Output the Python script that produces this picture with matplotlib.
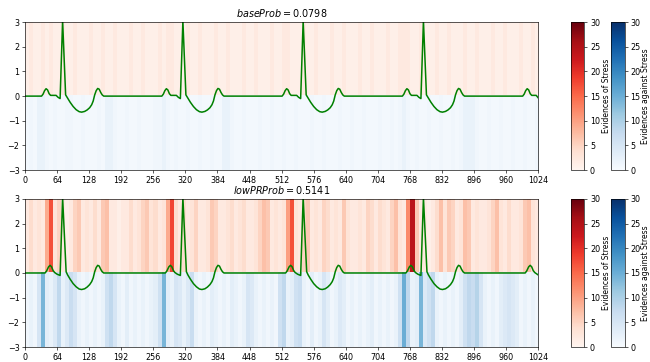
import numpy as np
import matplotlib
matplotlib.use("Agg")
import matplotlib.pyplot as plt

# ECG trace shown in the upper panel (sample index, amplitude)
top_t = [0, 33, 36, 39, 42, 45, 48, 51, 62, 66, 70, 75, 81, 85, 90, 96, 102, 108, 113, 119, 124, 129, 133, 136, 139, 142, 145, 148, 151, 154, 157,
         273, 276, 279, 282, 285, 288, 291, 302, 306, 310, 315, 321, 325, 330, 336, 342, 348, 353, 359, 364, 369, 373, 376, 379, 382, 385, 388, 391, 394, 397,
         513, 516, 519, 522, 525, 528, 531, 542, 546, 550, 555, 561, 565, 570, 576, 582, 588, 593, 599, 604, 609, 613, 616, 619, 622, 625, 628, 631, 634, 637,
         753, 756, 759, 762, 765, 768, 771, 782, 786, 790, 795, 801, 805, 810, 816, 822, 828, 833, 839, 844, 849, 853, 856, 859, 862, 865, 868, 871, 874, 877,
         993, 996, 999, 1002, 1005, 1008, 1011, 1020, 1024]
top_v = [0, 0, 0.08, 0.22, 0.3, 0.25, 0.1, 0.03, 0.03, -0.05, -0.1, 3.05, 0.05, -0.08, -0.25, -0.42, -0.55, -0.63, -0.65, -0.62, -0.56, -0.47, -0.35, -0.2, 0.05, 0.22, 0.31, 0.28, 0.15, 0.05, 0,
         0, 0.08, 0.22, 0.3, 0.25, 0.1, 0.03, 0.03, -0.05, -0.1, 3.05, 0.05, -0.08, -0.25, -0.42, -0.55, -0.63, -0.65, -0.62, -0.56, -0.47, -0.35, -0.2, 0.05, 0.22, 0.31, 0.28, 0.15, 0.05, 0,
         0, 0.08, 0.22, 0.3, 0.25, 0.1, 0.03, 0.03, -0.05, -0.1, 3.05, 0.05, -0.08, -0.25, -0.42, -0.55, -0.63, -0.65, -0.62, -0.56, -0.47, -0.35, -0.2, 0.05, 0.22, 0.31, 0.28, 0.15, 0.05, 0,
         0, 0.08, 0.22, 0.3, 0.25, 0.1, 0.03, 0.03, -0.05, -0.1, 3.05, 0.05, -0.08, -0.25, -0.42, -0.55, -0.63, -0.65, -0.62, -0.56, -0.47, -0.35, -0.2, 0.05, 0.22, 0.31, 0.28, 0.15, 0.05, 0,
         0, 0.08, 0.22, 0.3, 0.25, 0.1, 0.03, 0.03, -0.07]

# ECG trace shown in the lower panel
low_t = [0, 40, 43, 47, 50, 53, 56, 59, 64, 70, 75, 82, 85, 90, 96, 102, 108, 113, 119, 124, 129, 133, 136, 139, 142, 145, 148, 151, 154, 157,
         280, 283, 287, 290, 293, 296, 299, 304, 310, 315, 322, 325, 330, 336, 342, 348, 353, 359, 364, 369, 373, 376, 379, 382, 385, 388, 391, 394, 397,
         520, 523, 527, 530, 533, 536, 539, 544, 550, 555, 562, 565, 570, 576, 582, 588, 593, 599, 604, 609, 613, 616, 619, 622, 625, 628, 631, 634, 637,
         760, 763, 767, 770, 773, 776, 779, 784, 790, 795, 802, 805, 810, 816, 822, 828, 833, 839, 844, 849, 853, 856, 859, 862, 865, 868, 871, 874, 877,
         998, 1001, 1005, 1008, 1011, 1014, 1017, 1024]
low_v = [0, 0, 0.08, 0.25, 0.31, 0.25, 0.1, 0.02, -0.05, -0.1, 3.05, 0.05, -0.08, -0.25, -0.43, -0.56, -0.65, -0.67, -0.64, -0.57, -0.47, -0.35, -0.2, 0.05, 0.22, 0.31, 0.28, 0.15, 0.05, 0,
         0, 0.08, 0.25, 0.31, 0.25, 0.1, 0.02, -0.05, -0.1, 3.05, 0.05, -0.08, -0.25, -0.43, -0.56, -0.65, -0.67, -0.64, -0.57, -0.47, -0.35, -0.2, 0.05, 0.22, 0.31, 0.28, 0.15, 0.05, 0,
         0, 0.08, 0.25, 0.31, 0.25, 0.1, 0.02, -0.05, -0.1, 3.05, 0.05, -0.08, -0.25, -0.43, -0.56, -0.65, -0.67, -0.64, -0.57, -0.47, -0.35, -0.2, 0.05, 0.22, 0.31, 0.28, 0.15, 0.05, 0,
         0, 0.08, 0.25, 0.31, 0.25, 0.1, 0.02, -0.05, -0.1, 3.05, 0.05, -0.08, -0.25, -0.43, -0.56, -0.65, -0.67, -0.64, -0.57, -0.47, -0.35, -0.2, 0.05, 0.22, 0.31, 0.28, 0.15, 0.05, 0,
         0, 0.08, 0.25, 0.31, 0.25, 0.1, 0.02, -0.08]

# evidence per block of 8 samples (128 blocks over 0..1024)
base_for = [1, 2, 1, 1, 2, 1, 2, 1, 1, 2, 1, 1, 2, 1, 1, 1, 2, 1, 1, 2,
            1, 1, 2, 1, 1, 1, 2, 1, 1, 2, 1, 1, 1, 2, 1, 2, 2, 1, 1, 1,
            2, 1, 1, 2, 1, 1, 1, 2, 1, 1, 2, 1, 1, 1, 2, 1, 1, 2, 1, 1,
            1, 2, 1, 1, 2, 2, 1, 1, 1, 2, 1, 1, 2, 1, 1, 1, 2, 1, 1, 2,
            1, 1, 1, 2, 1, 1, 2, 1, 1, 1, 2, 1, 1, 2, 2, 2, 1, 1, 2, 1,
            1, 1, 2, 1, 1, 2, 1, 1, 1, 2, 1, 1, 2, 1, 1, 1, 2, 1, 1, 2,
            1, 1, 1, 2, 1, 1, 2, 1]
base_against = [0.5, 1, 0.5, 2, 2, 1, 0.5, 1, 0.5, 0.5, 1, 1, 0.5, 0.5, 1, 0.5, 0.5, 0.5, 1, 0.5,
                2, 2, 1, 0.5, 0.5, 1, 0.5, 0.5, 1, 0.5, 0.5, 0.5, 1, 1, 2, 1, 0.5, 1, 0.5, 0.5,
                1, 0.5, 0.5, 1, 0.5, 0.5, 1, 0.5, 0.5, 2, 2, 1, 0.5, 0.5, 1, 0.5, 0.5, 0.5, 1, 0.5,
                0.5, 1, 0.5, 0.5, 1, 0.5, 0.5, 1, 0.5, 0.5, 0.5, 1, 0.5, 0.5, 1, 0.5, 0.5, 0.5, 1, 0.5,
                0.5, 1, 0.5, 0.5, 1, 0.5, 0.5, 0.5, 1, 0.5, 0.5, 1, 0.5, 1, 2, 1, 0.5, 1, 0.5, 0.5,
                1, 0.5, 0.5, 1, 0.5, 0.5, 1, 0.5, 1, 2, 2, 2, 1, 0.5, 0.5, 1, 0.5, 0.5, 1, 0.5,
                0.5, 1, 0.5, 0.5, 1, 0.5, 0.5, 1]
low_for = [2, 4, 2, 3, 2, 9, 17, 3, 5, 2, 1, 2, 5, 6, 2, 3, 2, 4, 2, 6,
           7, 2, 2, 1, 2, 2, 4, 2, 3, 5, 6, 3, 4, 2, 3, 9, 18, 4, 2, 4,
           2, 3, 5, 2, 2, 3, 6, 5, 2, 2, 3, 4, 2, 3, 4, 2, 2, 3, 5, 7,
           6, 2, 3, 2, 3, 10, 17, 3, 2, 5, 6, 2, 3, 2, 5, 4, 2, 3, 2, 6,
           3, 2, 2, 3, 2, 5, 4, 2, 4, 3, 2, 5, 7, 3, 2, 12, 24, 6, 2, 2,
           1, 2, 4, 7, 3, 6, 5, 2, 3, 7, 6, 2, 3, 2, 2, 3, 5, 7, 3, 2,
           4, 2, 2, 3, 6, 7, 3, 2]
low_against = [1, 2, 1, 5, 14, 3, 2, 4, 8, 2, 4, 7, 5, 2, 1, 2, 1, 2, 1, 2,
               6, 8, 5, 2, 1, 3, 1, 2, 1, 2, 1, 2, 3, 6, 14, 3, 2, 5, 4, 2,
               4, 7, 2, 1, 2, 1, 3, 2, 1, 2, 1, 3, 2, 1, 2, 5, 4, 2, 1, 2,
               1, 2, 1, 6, 8, 2, 3, 6, 7, 2, 1, 3, 1, 2, 5, 3, 1, 2, 4, 3,
               1, 2, 1, 2, 1, 2, 3, 1, 2, 1, 2, 1, 2, 6, 15, 8, 2, 3, 14, 4,
               6, 8, 2, 1, 2, 1, 2, 1, 3, 6, 8, 7, 9, 5, 2, 1, 2, 1, 3, 4,
               5, 4, 3, 1, 2, 1, 2, 1]

titles = [r"$baseProb = 0.0798$", r"$lowPRProb = 0.5141$"]


def draw_panel(fig, rect, cbar_x, t, v, ev_for, ev_against, title):
    ax = fig.add_axes(rect)
    im_r = ax.imshow(np.array(ev_for)[np.newaxis, :], cmap="Reds", vmin=0, vmax=30,
                     extent=[0, 1024, 0, 3], aspect="auto", interpolation="nearest")
    im_b = ax.imshow(np.array(ev_against)[np.newaxis, :], cmap="Blues", vmin=0, vmax=30,
                     extent=[0, 1024, -3, 0], aspect="auto", interpolation="nearest")
    ax.plot(t, v, color="green", lw=1.9)
    ax.set_xlim(0, 1024)
    ax.set_ylim(-3, 3)
    ax.set_xticks(np.arange(0, 1025, 64))
    ax.set_title(title)

    # two colorbars to the right: reds above zero, blues below
    cax_r = fig.add_axes([cbar_x[0], rect[1], 0.021, rect[3]])
    cb_r = fig.colorbar(im_r, cax=cax_r)
    cb_r.set_label("Evidences of Stress", labelpad=2, fontsize=9.5)
    cax_b = fig.add_axes([cbar_x[1], rect[1], 0.021, rect[3]])
    cb_b = fig.colorbar(im_b, cax=cax_b)
    cb_b.set_label("Evidences against Stress", labelpad=0, fontsize=9.5)
    for cb in (cb_r, cb_b):
        cb.set_ticks(np.arange(0, 31, 5))
    return ax


if __name__ == "__main__":
    dpi = 58
    fig = plt.figure(figsize=(650 / dpi, 362 / dpi), dpi=dpi)
    cbar_x = [0.878, 0.94]
    draw_panel(fig, [0.0385, 0.530, 0.7895, 0.409], cbar_x,
               top_t, top_v, base_for, base_against, titles[0])
    draw_panel(fig, [0.0385, 0.0414, 0.7895, 0.409], cbar_x,
               low_t, low_v, low_for, low_against, titles[1])
    fig.savefig("out.png", dpi=dpi)
